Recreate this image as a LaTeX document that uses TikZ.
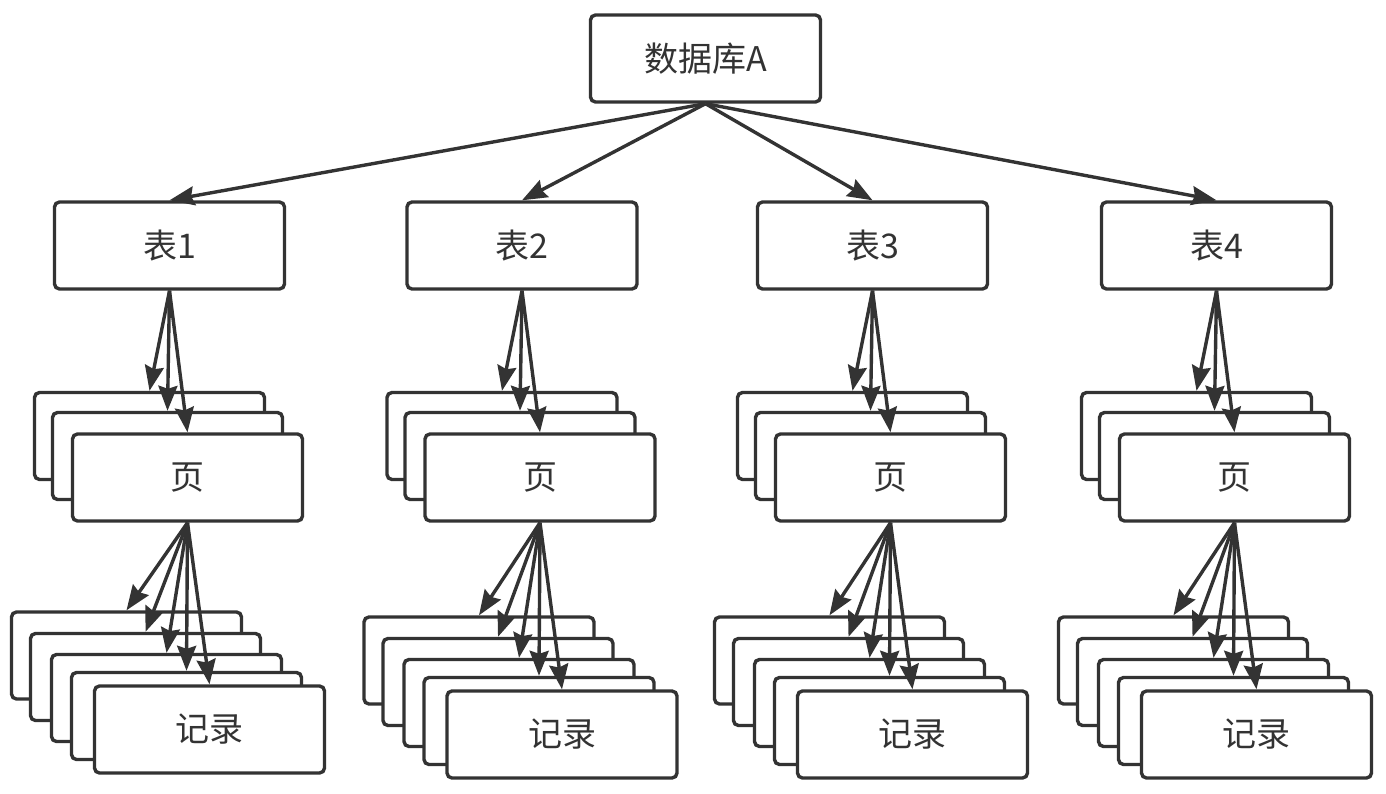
\documentclass[tikz,border=0pt]{standalone}
\usepackage{fontspec}
\usepackage{tikz}
\usetikzlibrary{arrows.meta}
\newfontfamily\cjkFont{Noto Sans CJK SC}
\definecolor{lineColor}{RGB}{51,51,51}
\tikzstyle{canvas} = [x = 1pt, y = -1pt]
\tikzstyle{boxStyle} = [draw=lineColor, fill=white, rounded corners = 5pt, line width = 3.4pt, minimum width = 230pt, minimum height = 87pt, text=lineColor, font=\cjkFont\fontsize{34}{40}\selectfont]
\tikzstyle{arrowStyle} = [draw=lineColor, line width = 3.4pt, -{Stealth[length=25pt, width=19pt, inset=3pt]}]
\newcommand{\tableBox}[3]{\node [boxStyle] (table#1) at (#2, 245.5) {#3};}
\newcommand{\pageStack}[2]{
  \foreach \layer/\shiftX/\posY in {1/-20/436, 2/-2/456} {
    \pgfmathsetmacro{\posX}{#2 + \shiftX}
    \node [boxStyle] (page#1-\layer) at (\posX, \posY) {};
  }
  \pgfmathsetmacro{\posX}{#2 + 18}
  \node [boxStyle] (page#1-3) at (\posX, 477.5) {页};
  \foreach \layer in {1,...,3} {
    \draw [arrowStyle] (table#1.south) -- (page#1-\layer.north);
  }
}
\newcommand{\recordStack}[3]{
  \foreach \layer/\shiftX/\posY in {1/-43/660.5, 2/-24/682, 3/-3/703, 4/17/721} {
    \pgfmathsetmacro{\posX}{#2 + \shiftX}
    \pgfmathsetmacro{\posYShift}{\posY + #3}
    \node [boxStyle] (record#1-\layer) at (\posX, \posYShift) {};
  }
  \pgfmathsetmacro{\posX}{#2 + 40}
  \pgfmathsetmacro{\posYShift}{734.5 + #3}
  \node [boxStyle] (record#1-5) at (\posX, \posYShift) {记录};
  \foreach \layer in {1,...,5} {
    \draw [arrowStyle] (page#1-3.south) -- (record#1-\layer.north);
  }
}
\begin{document}
\begin{tikzpicture}[canvas]
  \useasboundingbox (0,0) rectangle (1386,794);
  \node [boxStyle] (database) at (705.5, 58.5) {数据库A};

  \tableBox{1}{169.5}{表1}
  \tableBox{2}{522}{表2}
  \tableBox{3}{872.5}{表3}
  \tableBox{4}{1216.5}{表4}
  \foreach \column in {1,...,4} {
    \draw [arrowStyle] (database.south) -- (table\column.north);
  }

  \pageStack{1}{169.5}
  \pageStack{2}{522}
  \pageStack{3}{872.5}
  \pageStack{4}{1216.5}

  \recordStack{1}{169.5}{-5}
  \recordStack{2}{522}{0}
  \recordStack{3}{872.5}{0}
  \recordStack{4}{1216.5}{0}
\end{tikzpicture}
\end{document}
